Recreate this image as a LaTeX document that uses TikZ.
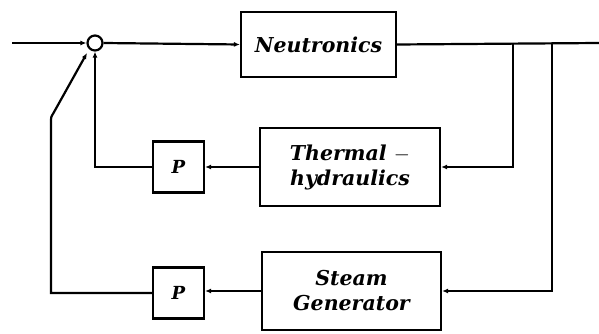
\documentclass[tikz,border=0pt]{standalone}
\usepackage{fontspec}
\setmainfont{DejaVu Serif}
\usetikzlibrary{arrows.meta}
\begin{document}
\begin{tikzpicture}[x=1pt,y=-1pt,line width=2.2pt,
  >={Latex[length=6pt,width=5pt]},
  blk/.style={draw,rectangle,inner sep=2pt,align=center,font=\fontsize{20.5}{25}\selectfont\bfseries\itshape},
  pblk/.style={draw,rectangle,minimum width=51pt,minimum height=51pt,inner sep=0pt,font=\fontsize{18}{20}\selectfont\bfseries\itshape}]
\useasboundingbox (0,0) rectangle (599,334);
\node[blk,minimum width=155pt,minimum height=65pt] (neu) at (318.5,44.5) {Neutronics};
\node[blk,minimum width=180pt,minimum height=78pt] (th) at (350,167) {Thermal $-$\\hydraulics};
\node[blk,minimum width=179pt,minimum height=78pt] (sg) at (351.5,291) {Steam\\Generator};
\node[pblk] (p1) at (178.5,167) {P};
\node[pblk] (p2) at (178.5,293) {P};
\node[circle,draw,minimum size=15pt,inner sep=0pt] (sum) at (95,43) {};
\coordinate (in) at (12,43);
\coordinate (out) at (599,43);
\coordinate (b1) at (513,43);
\coordinate (b2) at (552,43);
\coordinate (kb) at (51,293);
\coordinate (sumin) at (87,53);
\draw[->] (in) -- (sum.west);
\draw[->] (sum.east) -- (neu.west);
\draw (neu.east) -- (out);
\draw[->] (b1) |- (th.east);
\draw[->] (b2) |- (sg.east);
\draw[->] (th.west) -- (p1.east);
\draw[->] (sg.west) -- (sg.west -| p2.east);
\draw[->] (p1.west) -| (sum.south);
\draw[->] (p2.west) -- (kb) -- (51,122) .. controls (51,117) .. (53.5,113) -- (sumin);
\end{tikzpicture}
\end{document}
